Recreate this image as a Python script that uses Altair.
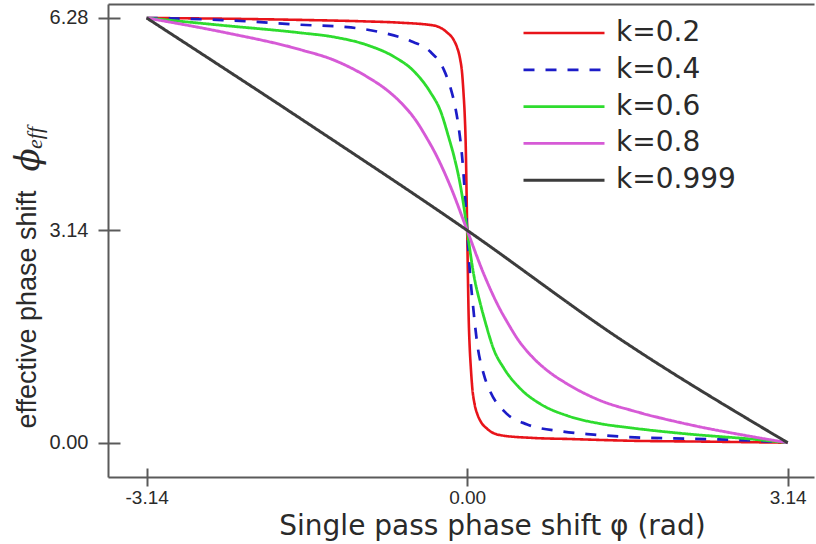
import altair as alt
import pandas as pd

# Series labels (coupling coefficient k)
k_labels = ["k=0.2", "k=0.4", "k=0.6", "k=0.8", "k=0.999"]

# Single pass phase shift (rad) and effective phase shift for each k
phi_02 = [-3.14, -2.4, -1.57, -1.0, -0.65, -0.33, -0.2, -0.13, -0.1, -0.07, -0.05, -0.035,
          -0.025, -0.015, 0.0, 0.015, 0.025, 0.035, 0.05, 0.07, 0.1, 0.13, 0.2, 0.33, 0.65,
          1.0, 1.57, 2.4, 3.14]
eff_02 = [6.28, 6.27, 6.25, 6.23, 6.21, 6.17, 6.07, 5.95, 5.85, 5.68, 5.47, 5.15,
          4.88, 4.45, 3.14, 1.83, 1.40, 1.13, 0.81, 0.59, 0.42, 0.32, 0.2, 0.11, 0.07,
          0.055, 0.03, 0.015, 0.0]

phi_04 = [-3.14, -2.4, -1.63, -1.14, -0.82, -0.555, -0.36, -0.23, -0.164, -0.115, -0.082,
          -0.049, -0.024, 0.0, 0.025, 0.059, 0.098, 0.163, 0.228, 0.359, 0.588, 0.914,
          1.24, 1.57, 2.16, 2.81, 3.14]
eff_04 = [6.28, 6.25, 6.18, 6.14, 6.06, 5.94, 5.78, 5.52, 5.25, 4.95, 4.65,
          4.22, 3.72, 3.14, 2.56, 2.00, 1.47, 1.01, 0.75, 0.47, 0.27, 0.17,
          0.12, 0.085, 0.06, 0.03, 0.0]

phi_06 = [-3.14, -2.39, -1.63, -1.31, -0.98, -0.72, -0.52, -0.36, -0.26, -0.18, -0.13,
          -0.066, -0.017, 0.0, 0.066, 0.13, 0.18, 0.26, 0.36, 0.52, 0.72, 0.98, 1.31,
          1.6, 2.155, 2.81, 3.14]
eff_06 = [6.28, 6.17, 6.06, 6.00, 5.88, 5.71, 5.49, 5.18, 4.90, 4.51, 4.24,
          3.80, 3.33, 3.14, 2.47, 2.05, 1.77, 1.38, 1.10, 0.80, 0.57, 0.40, 0.28,
          0.22, 0.13, 0.05, 0.0]

phi_08 = [-3.14, -2.39, -1.63, -1.31, -0.98, -0.8, -0.65, -0.5, -0.39, -0.33, -0.164, 0.0,
          0.164, 0.33, 0.39, 0.5, 0.65, 0.8, 0.98, 1.31, 1.63, 2.2, 2.81, 3.14]
eff_08 = [6.28, 6.07, 5.81, 5.66, 5.41, 5.23, 5.03, 4.76, 4.49, 4.33, 3.79, 3.14,
          2.49, 1.95, 1.79, 1.52, 1.25, 1.05, 0.87, 0.62, 0.47, 0.26, 0.085, 0.0]

phi_0999 = [-3.14, -1.57, 0.0, 1.5, 3.14]
eff_0999 = [6.28, 4.73, 3.14, 1.53, 0.0]

# Axis ticks
x_ticks = [-3.14, 0.0, 3.14]
y_ticks = [0.0, 3.14, 6.28]

# Line styles per series
line_colors = ["#e8141a", "#1c1cc8", "#2edc2e", "#d65ad6", "#3c3c3c"]
line_dashes = [[1, 0], [11, 11], [1, 0], [1, 0], [1, 0]]
line_widths = [2.6, 3.0, 2.6, 1.8, 1.6]

series = [
    (k_labels[0], phi_02, eff_02),
    (k_labels[1], phi_04, eff_04),
    (k_labels[2], phi_06, eff_06),
    (k_labels[3], phi_08, eff_08),
    (k_labels[4], phi_0999, eff_0999),
]
rows = []
for label, xs, ys in series:
    for xv, yv in zip(xs, ys):
        rows.append({"k": label, "phi": xv, "phi_eff": yv})
df = pd.DataFrame(rows)

frame_color = "#5a5a5a"
text_color = "#2a2a2a"
label_font = "Liberation Sans"

x_scale = alt.Scale(domain=[-3.519, 3.398], nice=False, zero=False)
y_scale = alt.Scale(domain=[-0.507, 6.487], nice=False, zero=False)

# Tick labels with a plain hyphen for negatives
tick_label = "(datum.value < 0 ? '-' : '') + format(abs(datum.value), '.2f')"

x_axis_main = alt.Axis(
    orient="bottom", values=x_ticks, labelExpr=tick_label, domain=False, grid=False,
    offset=-9, tickSize=18, tickWidth=2, tickColor=frame_color,
    labelFont=label_font, labelFontSize=19, labelColor=text_color, labelPadding=2,
    title="Single pass phase shift  \u03c6 (rad)", titleFont="DejaVu Sans",
    titleFontSize=28, titleFontWeight="normal", titleColor=text_color,
    titleX=384, titleY=66, titleAlign="center", titleBaseline="alphabetic",
)
y_axis_main = alt.Axis(
    orient="left", values=y_ticks, labelExpr=tick_label, domain=False, grid=False,
    offset=-12, tickSize=22, tickWidth=2, tickColor=frame_color,
    labelFont=label_font, labelFontSize=20, labelColor=text_color, labelPadding=10,
    title="effective phase shift", titleFont="Liberation Sans",
    titleFontSize=27, titleFontWeight="normal", titleColor=text_color,
    titleAngle=270, titleX=-85, titleY=305, titleAlign="center",
    titleBaseline="alphabetic",
)

legend = alt.Legend(
    title=None, orient="none", legendX=414, legendY=15, padding=0,
    symbolType="stroke", symbolSize=6561, symbolOffset=0, clipHeight=28,
    labelFont="DejaVu Sans", labelFontSize=28, labelColor=text_color,
    labelOffset=10, rowPadding=8.8,
)

lines = alt.Chart(df).mark_line(interpolate="monotone", clip=True).encode(
    x=alt.X("phi:Q", scale=x_scale, axis=x_axis_main),
    y=alt.Y("phi_eff:Q", scale=y_scale, axis=y_axis_main),
    color=alt.Color("k:N", scale=alt.Scale(domain=k_labels, range=line_colors), legend=legend),
    strokeDash=alt.StrokeDash("k:N", scale=alt.Scale(domain=k_labels, range=line_dashes), legend=legend),
    strokeWidth=alt.StrokeWidth("k:N", scale=alt.Scale(domain=k_labels, range=line_widths), legend=legend),
)

# Frame: bottom and left edges
frame_bl = alt.Chart(df).mark_line(opacity=0).encode(
    x=alt.X("phi:Q", scale=x_scale, axis=alt.Axis(
        orient="bottom", domain=True, domainColor=frame_color, domainWidth=2,
        ticks=False, labels=False, grid=False, title=None)),
    y=alt.Y("phi_eff:Q", scale=y_scale, axis=alt.Axis(
        orient="left", domain=True, domainColor=frame_color, domainWidth=2,
        ticks=False, labels=False, grid=False, title=None)),
    detail="k:N",
)
# Frame: top edge
frame_top = alt.Chart(df).mark_line(opacity=0).encode(
    x=alt.X("phi:Q", scale=x_scale, axis=alt.Axis(
        orient="top", domain=True, domainColor=frame_color, domainWidth=2,
        ticks=False, labels=False, grid=False, title=None)),
    y=alt.Y("phi_eff:Q", scale=y_scale, axis=None),
    detail="k:N",
)

# Symbol part of the y title: phi with subscript "eff"
phi_sym = alt.Chart(pd.DataFrame({"t": ["\u03d5"]})).mark_text(
    angle=270, font="DejaVu Serif", fontStyle="italic", fontSize=34,
    align="center", baseline="alphabetic", color=text_color,
).encode(x=alt.value(-69), y=alt.value(156), text="t:N")
phi_sub = alt.Chart(pd.DataFrame({"t": ["eff"]})).mark_text(
    angle=270, font="Liberation Serif", fontStyle="italic", fontSize=22,
    align="center", baseline="alphabetic", color=text_color,
).encode(x=alt.value(-66), y=alt.value(134), text="t:N")

chart = alt.layer(lines, frame_bl, frame_top, phi_sym, phi_sub).resolve_axis(
    x="independent", y="independent"
).properties(
    width=706, height=473,
    autosize=alt.AutoSizeParams(type="none"),
    padding={"left": 108, "top": 4, "right": 2, "bottom": 67},
    background="white",
).configure_view(
    stroke=None
)

chart.save("out.html", embed_options={"renderer": "svg", "actions": False})
